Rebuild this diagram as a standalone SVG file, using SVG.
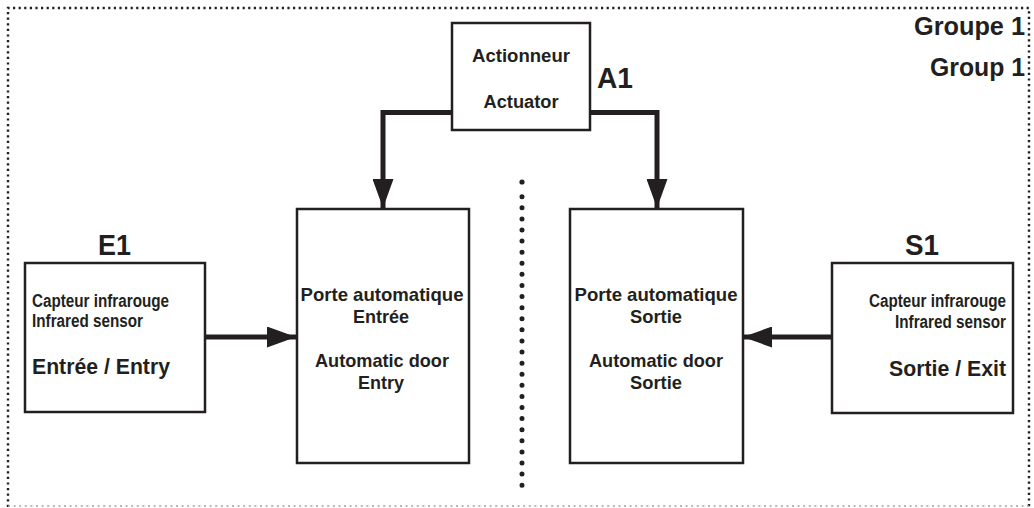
<svg xmlns="http://www.w3.org/2000/svg" width="1034" height="508" viewBox="0 0 1034 508">
<style>
  text { font-family: "Liberation Sans", Arial, sans-serif; font-weight: bold; fill: #231f20; }
  .box { fill: #ffffff; stroke: #231f20; stroke-width: 2.5; }
  .conn { fill: none; stroke: #231f20; stroke-width: 5; }
  .big { font-size: 29px; }
  .grp { font-size: 25px; text-anchor: end; }
  .narrow { font-size: 17.5px; }
  .door { font-size: 18.5px; text-anchor: middle; }
  .act { font-size: 18px; text-anchor: middle; }
  .mid { font-size: 22px; }
</style>
<defs>
  <marker id="arrow" viewBox="0 0 29 21" refX="29" refY="10.5" markerWidth="29" markerHeight="21" markerUnits="userSpaceOnUse" orient="auto">
    <path d="M0,0 L29,10.5 L0,21 Z" fill="#231f20"/>
  </marker>
</defs>
<rect width="1034" height="508" fill="#ffffff"/>
<g id="frame">
  <path d="M8,507 L8,8 L1029,8 L1029,507" fill="none" stroke="#231f20" stroke-width="2.4" stroke-dasharray="2.2 3.4"/>
  <path d="M8,506 L1029,506" fill="none" stroke="#a0a0a0" stroke-width="1.6" stroke-dasharray="2 3.6"/>
  <text class="grp" x="1025" y="35" textLength="111" lengthAdjust="spacingAndGlyphs">Groupe 1</text>
  <text class="grp" x="1025" y="76" textLength="95" lengthAdjust="spacingAndGlyphs">Group 1</text>
</g>
<g id="divider">
  <circle cx="522" cy="182" r="2.6" fill="#231f20"/>
  <line x1="522" y1="196.7" x2="522" y2="485.2" stroke="#231f20" stroke-width="5" stroke-linecap="round" stroke-dasharray="0 11.096"/>
</g>
<g id="connectors">
  <path class="conn" d="M452,112.5 L383,112.5 L383,208" marker-end="url(#arrow)"/>
  <path class="conn" d="M590,112.5 L657,112.5 L657,208" marker-end="url(#arrow)"/>
  <path class="conn" d="M205,337 L296,337" marker-end="url(#arrow)"/>
  <path class="conn" d="M832,337 L743,337" marker-end="url(#arrow)"/>
</g>
<g id="A1">
  <rect class="box" x="452" y="23" width="138" height="107"/>
  <text class="act" x="521" y="62" textLength="98" lengthAdjust="spacingAndGlyphs">Actionneur</text>
  <text class="act" x="521" y="108" textLength="75" lengthAdjust="spacingAndGlyphs">Actuator</text>
  <text class="big" x="597" y="88" textLength="36" lengthAdjust="spacingAndGlyphs">A1</text>
</g>
<g id="E1">
  <rect class="box" x="25" y="263" width="180" height="149"/>
  <text class="big" x="98" y="255" textLength="33" lengthAdjust="spacingAndGlyphs">E1</text>
  <text class="narrow" x="32" y="307" textLength="137" lengthAdjust="spacingAndGlyphs">Capteur infrarouge</text>
  <text class="narrow" x="32" y="327" textLength="111" lengthAdjust="spacingAndGlyphs">Infrared sensor</text>
  <text class="mid" x="32" y="374" textLength="138" lengthAdjust="spacingAndGlyphs">Entrée / Entry</text>
</g>
<g id="door-entry">
  <rect class="box" x="297" y="209" width="172" height="254"/>
  <text class="door" x="382" y="301" textLength="163" lengthAdjust="spacingAndGlyphs">Porte automatique</text>
  <text class="door" x="381" y="323" textLength="56" lengthAdjust="spacingAndGlyphs">Entrée</text>
  <text class="door" x="382" y="367" textLength="134" lengthAdjust="spacingAndGlyphs">Automatic door</text>
  <text class="door" x="381" y="389" textLength="46" lengthAdjust="spacingAndGlyphs">Entry</text>
</g>
<g id="door-exit">
  <rect class="box" x="570" y="209" width="173" height="254"/>
  <text class="door" x="656" y="301" textLength="163" lengthAdjust="spacingAndGlyphs">Porte automatique</text>
  <text class="door" x="656" y="323" textLength="52" lengthAdjust="spacingAndGlyphs">Sortie</text>
  <text class="door" x="656" y="367" textLength="134" lengthAdjust="spacingAndGlyphs">Automatic door</text>
  <text class="door" x="656" y="389" textLength="52" lengthAdjust="spacingAndGlyphs">Sortie</text>
</g>
<g id="S1">
  <rect class="box" x="832" y="263" width="181" height="150"/>
  <text class="big" x="905" y="255" textLength="34" lengthAdjust="spacingAndGlyphs">S1</text>
  <text class="narrow" x="1006" y="307" text-anchor="end" textLength="137" lengthAdjust="spacingAndGlyphs">Capteur infrarouge</text>
  <text class="narrow" x="1006" y="328" text-anchor="end" textLength="111" lengthAdjust="spacingAndGlyphs">Infrared sensor</text>
  <text class="mid" x="1006" y="376" text-anchor="end" textLength="117" lengthAdjust="spacingAndGlyphs">Sortie / Exit</text>
</g>
</svg>
